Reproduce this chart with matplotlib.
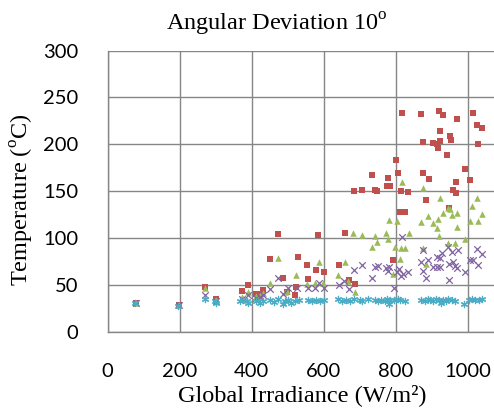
import matplotlib
matplotlib.use("Agg")
import matplotlib.pyplot as plt

# Series (irradiance W/m2, temperature C)
red_x = [78, 198, 270, 302, 372, 390, 413, 422, 432, 452, 474, 487, 497, 520, 524, 529,
         554, 557, 577, 585, 601, 642, 659, 670, 686, 684, 706, 734, 742, 749, 776, 779,
         785, 793, 800, 805, 811, 813, 818, 825, 835, 871, 876, 876, 883, 893, 902, 913,
         916, 920, 922, 924, 930, 943, 948, 950, 953, 959, 967, 968, 971, 992, 1006, 1013,
         1024, 1029, 1038]
red_y = [31, 29, 48, 35, 44, 50, 41, 41, 45, 78, 105, 58, 43, 40, 48, 80,
         72, 57, 66, 104, 64, 72, 106, 56, 51, 150, 151, 168, 151, 150, 156, 164,
         156, 77, 183, 170, 128, 150, 233, 128, 149, 232, 203, 170, 141, 163, 202, 201,
         196, 236, 204, 214, 231, 189, 132, 209, 205, 151, 148, 160, 227, 174, 162, 234,
         221, 201, 218]

green_x = [78, 198, 270, 302, 372, 390, 413, 422, 432, 452, 474, 492, 498, 524, 552, 575,
           586, 598, 640, 659, 667, 686, 682, 705, 733, 742, 749, 774, 779, 782, 793, 799,
           804, 811, 813, 818, 825, 836, 871, 876, 876, 883, 890, 904, 913, 917, 920, 924,
           930, 946, 945, 950, 957, 965, 971, 971, 992, 1007, 1012, 1024, 1029, 1038]
green_y = [31, 29, 47, 34, 38, 43, 39, 40, 42, 52, 79, 43, 44, 61, 51, 52,
           75, 52, 61, 75, 55, 43, 106, 104, 91, 103, 96, 106, 99, 120, 62, 91,
           118, 78, 90, 160, 90, 106, 117, 154, 90, 73, 124, 116, 111, 121, 103, 143,
           127, 95, 132, 131, 125, 95, 127, 112, 99, 119, 134, 143, 119, 126]

purple_x = [78, 198, 270, 302, 372, 390, 413, 422, 432, 450, 474, 487, 501, 526, 557, 575,
            586, 601, 642, 656, 670, 684, 705, 733, 742, 751, 774, 779, 782, 795, 804, 809,
            813, 818, 820, 835, 871, 876, 876, 883, 890, 904, 913, 915, 922, 923, 927, 945,
            948, 948, 955, 959, 964, 970, 973, 993, 1007, 1015, 1024, 1029, 1038]
purple_y = [31, 29, 40, 33, 36, 40, 37, 38, 40, 46, 58, 41, 47, 47, 47, 47,
            52, 47, 50, 55, 46, 66, 72, 58, 70, 71, 68, 65, 70, 47, 64, 67,
            60, 102, 62, 64, 75, 88, 65, 58, 77, 70, 80, 70, 79, 70, 84, 91,
            73, 56, 86, 75, 71, 68, 88, 64, 77, 77, 89, 72, 83]

cyan_x = [76, 196, 270, 298, 302, 367, 376, 386, 390, 413, 422, 432, 450, 462, 474, 486,
          492, 500, 510, 520, 531, 555, 566, 578, 590, 600, 640, 650, 662, 672, 684, 700,
          705, 722, 742, 750, 758, 770, 775, 780, 785, 795, 805, 812, 825, 871, 880, 888,
          896, 904, 912, 920, 925, 930, 938, 946, 955, 965, 990, 1003, 1012, 1020, 1030, 1040]
cyan_y = [31, 28, 35, 33, 31, 33, 34, 33, 31, 33, 31, 33, 34, 32, 35, 30,
          33, 34, 31, 33, 34, 34, 33, 34, 33, 34, 35, 33, 34, 33, 35, 34,
          33, 35, 34, 33, 34, 33, 35, 30, 34, 34, 35, 34, 33, 34, 33, 35,
          34, 33, 35, 34, 31, 34, 33, 35, 34, 33, 30, 34, 35, 34, 34, 35]

xticks = [0, 200, 400, 600, 800, 1000]
yticks = [0, 50, 100, 150, 200, 250, 300]

plt.rcParams['mathtext.fontset'] = 'custom'
plt.rcParams['mathtext.rm'] = 'Liberation Serif'

fig = plt.figure(figsize=(4.94, 4.12), dpi=100)
ax = fig.add_axes([0.218, 0.1934, 0.802, 0.684])

ax.scatter(red_x, red_y, marker='s', s=18, color='#C0504D', zorder=3, linewidths=0)
ax.scatter(green_x, green_y, marker='^', s=22, color='#9BBB59', zorder=3, linewidths=0)
ax.scatter(purple_x, purple_y, marker='x', s=22, color='#8064A2', zorder=3, linewidths=0.9)
ax.scatter(cyan_x, cyan_y, marker=(6, 2, 0), s=20, color='#4BACC6', zorder=3, linewidths=0.9)

ax.set_xlim(0, 1100)
ax.set_ylim(0, 300)
ax.set_xticks(xticks)
ax.set_yticks(yticks)
ax.grid(True, color='#868686', linewidth=1.0)
ax.set_axisbelow(True)
for side in ['top', 'right']:
    ax.spines[side].set_visible(False)
for side in ['left', 'bottom']:
    ax.spines[side].set_color('#868686')
    ax.spines[side].set_linewidth(1.0)
ax.tick_params(length=0, labelsize=14.5)
ax.tick_params(axis='x', pad=22)
ax.tick_params(axis='y', pad=21)
for lab in ax.get_xticklabels() + ax.get_yticklabels():
    lab.set_fontfamily('Lato')

fig.text(277 / 494, 1 - 24 / 412, r'Angular Deviation 10$^{\mathrm{o}}$',
         ha='center', va='center', family='Liberation Serif', fontsize=17.5)
fig.text(302 / 494, 1 - 395 / 412, 'Global Irradiance (W/m²)',
         ha='center', va='center', family='Liberation Serif', fontsize=17.5)
fig.text(22 / 494, 1 - 200 / 412, r'Temperature ($^{\mathrm{o}}$C)', rotation=90,
         ha='center', va='center', family='Liberation Serif', fontsize=17.5)

fig.savefig('out.png', dpi=100)
